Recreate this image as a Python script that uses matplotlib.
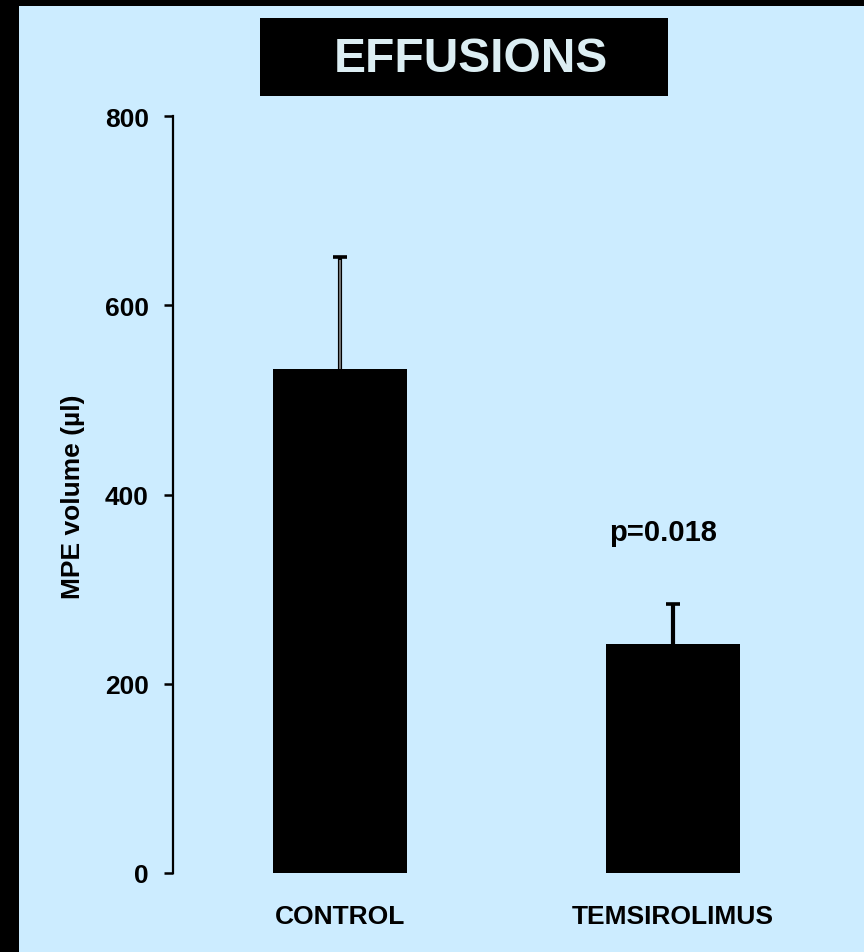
import matplotlib
matplotlib.use("Agg")
import matplotlib.pyplot as plt
from matplotlib.patches import Rectangle

# Data
groups = ["CONTROL", "TEMSIROLIMUS"]
mpe_volume = [533, 242]
sem_upper = [118, 42]
y_ticks = [0, 200, 400, 600, 800]
p_value_label = "p=0.018"
title = "EFFUSIONS"

bg = "#CCECFF"
plt.rcParams["font.family"] = ["Liberation Sans", "DejaVu Sans"]
plt.rcParams["font.weight"] = "bold"

W, H = 864, 953
fig = plt.figure(figsize=(W / 100, H / 100), dpi=100, facecolor=bg)

# black frame strips on the left and top edges
fig.patches.append(Rectangle((0, 0), 19 / W, 1, transform=fig.transFigure,
                             facecolor="black", edgecolor="none", zorder=0))
fig.patches.append(Rectangle((0, 1 - 7 / H), 1, 7 / H, transform=fig.transFigure,
                             facecolor="black", edgecolor="none", zorder=0))

# title box
fig.patches.append(Rectangle((260 / W, 1 - 97 / H), 408 / W, 78 / H,
                             transform=fig.transFigure, facecolor="black",
                             edgecolor="none", zorder=1))
fig.text(471 / W, 1 - 59 / H, title, ha="center", va="center",
         fontsize=34.5, fontweight="bold", color="#DCEEF3", zorder=2)

ax = fig.add_axes([173 / W, 79 / H, 667 / W, 757 / H])
ax.set_facecolor("none")

x = list(range(len(groups)))
ax.bar(x, mpe_volume, width=0.402, color="black", zorder=2)

# upper-only error bars: stem plus a cap at the top
tops = [m + e for m, e in zip(mpe_volume, sem_upper)]
ax.vlines(x, mpe_volume, tops, color="black", linewidth=3.0, zorder=3)
ax.plot(x, tops, linestyle="none", marker="_", markersize=10,
        markeredgewidth=2.6, color="black", zorder=4)
# lighter core on the control error line
ax.vlines(x[0], mpe_volume[0], tops[0] - 3, color="#808080",
          linewidth=1.3, zorder=4)

ax.text(x[1] - 0.03, 360, p_value_label, ha="center", va="center",
        fontsize=21, fontweight="bold", color="black")

ax.set_xlim(-0.5, 1.5)
ax.set_ylim(0, 800)
ax.set_yticks(y_ticks)
ax.set_yticklabels([str(t) for t in y_ticks], fontsize=19, fontweight="bold")
ax.tick_params(axis="y", direction="out", length=6.5, width=1.8, pad=11)
ax.tick_params(axis="x", length=0, pad=22)
ax.set_xticks(x)
ax.set_xticklabels(groups, fontsize=19, fontweight="bold")

for side in ["top", "right", "bottom"]:
    ax.spines[side].set_visible(False)
ax.spines["left"].set_linewidth(1.6)

fig.text(73 / W, 1 - 497 / H, "MPE volume (µl)", rotation=90, ha="center",
         va="center", fontsize=19, fontweight="bold")

fig.savefig("out.png", dpi=100, facecolor=bg)
